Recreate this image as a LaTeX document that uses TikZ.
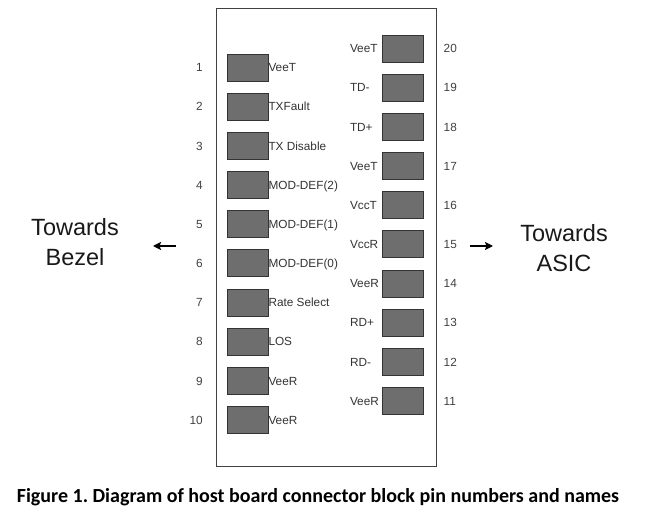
\documentclass[tikz,border=0pt]{standalone}
\usepackage{fontspec}
\setmainfont{Liberation Sans}
\newfontfamily\capfont{Carlito}
\usetikzlibrary{positioning, arrows.meta}

\begin{document}
\frenchspacing
\begin{tikzpicture}[
  x=1pt, y=-1pt,
  node distance=12.17pt and 20pt,
  font=\fontsize{11.8}{13}\selectfont,
  board/.style={rectangle, draw=black!75, line width=0.9pt, minimum width=220.5pt, minimum height=458pt, inner sep=0pt, outer sep=0pt},
  pad/.style={rectangle, draw=black!80, line width=0.8pt, fill=black!57, minimum width=41pt, minimum height=27pt, inner sep=0pt, outer sep=0pt},
  pinno/.style={text=black!75, inner sep=0pt, text height=8.5pt, text depth=0pt},
  pinname/.style={text=black!80, inner sep=0.3pt, text height=8.5pt, text depth=0pt},
  towards/.style={font=\fontsize{23.5}{30}\selectfont, align=center, text=black!90},
  arrow/.style={line width=1.6pt, -{Stealth[length=8pt, width=8pt, inset=1.5pt]}}
]
\useasboundingbox (0,0) rectangle (654,521);

% Connector block outline
\node[board] (board) at (326.25,237) {};

% Left column of pads (pins 1-10)
\node[pad] (p1) at (247.5,67.5) {};
\node[pad, below=of p1] (p2) {};
\node[pad, below=of p2] (p3) {};
\node[pad, below=of p3] (p4) {};
\node[pad, below=of p4] (p5) {};
\node[pad, below=of p5] (p6) {};
\node[pad, below=of p6] (p7) {};
\node[pad, below=of p7] (p8) {};
\node[pad, below=of p8] (p9) {};
\node[pad, below=of p9] (p10) {};

% Right column of pads (pins 20-11)
\node[pad] (p20) at (403,48.5) {};
\node[pad, below=of p20] (p19) {};
\node[pad, below=of p19] (p18) {};
\node[pad, below=of p18] (p17) {};
\node[pad, below=of p17] (p16) {};
\node[pad, below=of p16] (p15) {};
\node[pad, below=of p15] (p14) {};
\node[pad, below=of p14] (p13) {};
\node[pad, below=of p13] (p12) {};
\node[pad, below=of p12] (p11) {};

% Pin numbers
\node[pinno, left=24pt of p1] (n1) {1};
\node[pinno, left=24pt of p2] (n2) {2};
\node[pinno, left=24pt of p3] (n3) {3};
\node[pinno, left=24pt of p4] (n4) {4};
\node[pinno, left=24pt of p5] (n5) {5};
\node[pinno, left=24pt of p6] (n6) {6};
\node[pinno, left=24pt of p7] (n7) {7};
\node[pinno, left=24pt of p8] (n8) {8};
\node[pinno, left=24pt of p9] (n9) {9};
\node[pinno, left=24pt of p10] (n10) {10};
\node[pinno, right=of p20] (n20) {20};
\node[pinno, right=of p19] (n19) {19};
\node[pinno, right=of p18] (n18) {18};
\node[pinno, right=of p17] (n17) {17};
\node[pinno, right=of p16] (n16) {16};
\node[pinno, right=of p15] (n15) {15};
\node[pinno, right=of p14] (n14) {14};
\node[pinno, right=of p13] (n13) {13};
\node[pinno, right=of p12] (n12) {12};
\node[pinno, right=of p11] (n11) {11};

% Pin names, left side
\node[pinname, right=0pt of p1] (l1) {VeeT};
\node[pinname, right=0pt of p2] (l2) {TXFault};
\node[pinname, right=0pt of p3] (l3) {TX Disable};
\node[pinname, right=0pt of p4] (l4) {MOD-DEF(2)};
\node[pinname, right=0pt of p5] (l5) {MOD-DEF(1)};
\node[pinname, right=0pt of p6] (l6) {MOD-DEF(0)};
\node[pinname, right=0pt of p7] (l7) {Rate Select};
\node[pinname, right=0pt of p8] (l8) {LOS};
\node[pinname, right=0pt of p9] (l9) {VeeR};
\node[pinname, right=0pt of p10] (l10) {VeeR};

% Pin names, right side (left aligned)
\coordinate (rcol) at (349.5,0);
\node[pinname, anchor=west] (l20) at (rcol |- p20) {VeeT};
\node[pinname, anchor=west] (l19) at (rcol |- p19) {TD-};
\node[pinname, anchor=west] (l18) at (rcol |- p18) {TD+};
\node[pinname, anchor=west] (l17) at (rcol |- p17) {VeeT};
\node[pinname, anchor=west] (l16) at (rcol |- p16) {VccT};
\node[pinname, anchor=west] (l15) at (rcol |- p15) {VccR};
\node[pinname, anchor=west] (l14) at (rcol |- p14) {VeeR};
\node[pinname, anchor=west] (l13) at (rcol |- p13) {RD+};
\node[pinname, anchor=west] (l12) at (rcol |- p12) {RD-};
\node[pinname, anchor=west] (l11) at (rcol |- p11) {VeeR};

% Directions
\node[towards] (bezel) at (75,242) {Towards\\Bezel};
\node[towards] (asic) at (564,248.5) {Towards\\ASIC};
\coordinate (bezelfrom) at (176,246);
\coordinate (bezelto) at (153,246);
\coordinate (asicfrom) at (470,246);
\coordinate (asicto) at (493,246);
\draw[arrow] (bezelfrom) -- (bezelto);
\draw[arrow] (asicfrom) -- (asicto);

% Caption
\node[font=\capfont\bfseries\fontsize{20}{24}\selectfont] (caption) at (318,497) {Figure 1. Diagram of host board connector block pin numbers and names};

\end{tikzpicture}
\end{document}
